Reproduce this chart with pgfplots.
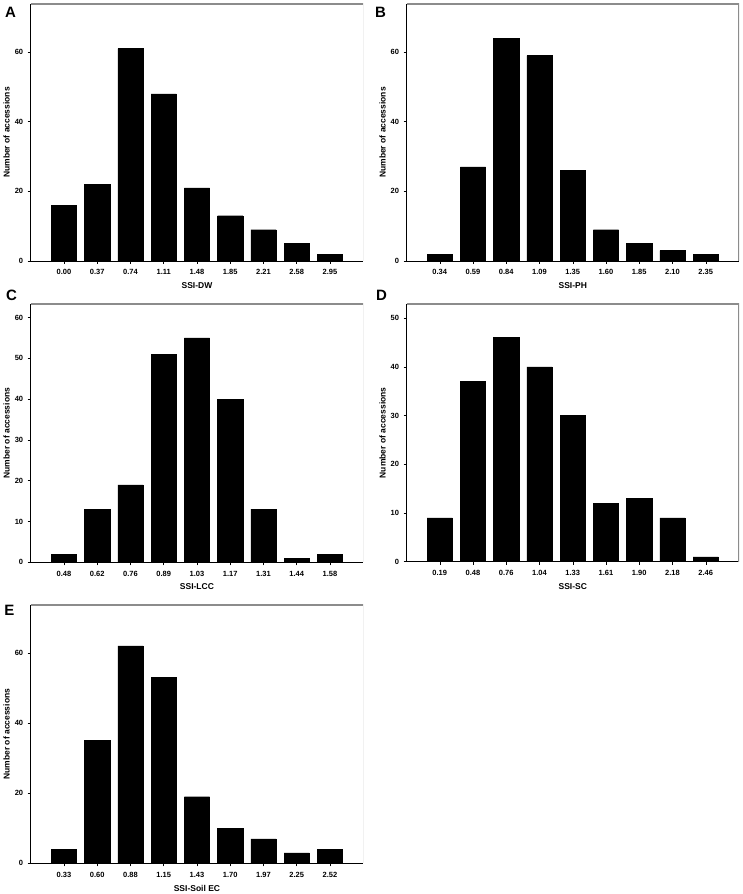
\documentclass[border=0pt]{standalone}
\usepackage{fontspec}
\setmainfont{Liberation Sans}
\usepackage{pgfplots}
\pgfplotsset{compat=1.18}
\definecolor{framegray}{HTML}{8C8C8C}
\pgfplotsset{
  hist/.style={
    scale only axis,
    width=332.5pt,
    xmin=-1, xmax=9, ymin=0,
    ybar, bar width=0.76,
    axis x line*=bottom, axis y line*=left,
    axis line style={black, line width=0.6pt},
    tick align=outside, major tick length=3pt,
    tick style={black, line width=0.5pt},
    xtick={0,...,8},
    /pgf/number format/assume math mode=true,
    tick label style={font=\bfseries\fontsize{7.5}{8}\selectfont},
    xticklabel style={yshift=-2.1pt},
    yticklabel style={xshift=-1pt},
    ylabel={Number of accessions},
    every axis y label/.style={at={([xshift=-24pt]axis description cs:0,0.5)}, rotate=90, anchor=center, font=\bfseries\fontsize{8.5}{10}\selectfont},
    every axis x label/.style={at={([yshift=-24.7pt]axis description cs:0.5,0)}, anchor=center, font=\bfseries\fontsize{8.5}{10}\selectfont},
  },
  bars/.style={fill=black, draw=black, line width=0.3pt},
}
\newcommand{\grayframe}{\draw[framegray, line width=1.4pt] (rel axis cs:0,1) -- (rel axis cs:1,1) -- (rel axis cs:1,0);}
\begin{document}
\begin{tikzpicture}
\path[use as bounding box] (0pt,0pt) rectangle (743pt,894pt);

% A
\begin{axis}[hist, at={(30.7pt,633pt)}, anchor=south west, height=257pt, ymax=73.8,
  ytick={0,20,40,60},
  xticklabels={0.00,0.37,0.74,1.11,1.48,1.85,2.21,2.58,2.95},
  xlabel={SSI-DW}]
\addplot[bars] coordinates {(0,16) (1,22) (2,61) (3,48) (4,21) (5,13) (6,9) (7,5) (8,2)};
\grayframe
\end{axis}

% B
\begin{axis}[hist, at={(406.5pt,633pt)}, anchor=south west, height=257pt, ymax=73.8,
  ytick={0,20,40,60},
  xticklabels={0.34,0.59,0.84,1.09,1.35,1.60,1.85,2.10,2.35},
  xlabel={SSI-PH}]
\addplot[bars] coordinates {(0,2) (1,27) (2,64) (3,59) (4,26) (5,9) (6,5) (7,3) (8,2)};
\grayframe
\end{axis}

% C
\begin{axis}[hist, at={(30.7pt,331.7pt)}, anchor=south west, height=258.3pt, ymax=63.3,
  ytick={0,10,20,30,40,50,60},
  xticklabels={0.48,0.62,0.76,0.89,1.03,1.17,1.31,1.44,1.58},
  xlabel={SSI-LCC}]
\addplot[bars] coordinates {(0,2) (1,13) (2,19) (3,51) (4,55) (5,40) (6,13) (7,1) (8,2)};
\grayframe
\end{axis}

% D
\begin{axis}[hist, at={(406.5pt,332.3pt)}, anchor=south west, height=257.7pt, ymax=52.9,
  ytick={0,10,20,30,40,50},
  xticklabels={0.19,0.48,0.76,1.04,1.33,1.61,1.90,2.18,2.46},
  xlabel={SSI-SC}]
\addplot[bars] coordinates {(0,9) (1,37) (2,46) (3,40) (4,30) (5,12) (6,13) (7,9) (8,1)};
\grayframe
\end{axis}

% E
\begin{axis}[hist, at={(30.7pt,30.7pt)}, anchor=south west, height=258.3pt, ymax=73.7,
  ytick={0,20,40,60},
  xticklabels={0.33,0.60,0.88,1.15,1.43,1.70,1.97,2.25,2.52},
  xlabel={SSI-Soil EC}]
\addplot[bars] coordinates {(0,4) (1,35) (2,62) (3,53) (4,19) (5,10) (6,7) (7,3) (8,4)};
\grayframe
\end{axis}

% panel letters
\begin{scope}[every node/.style={font=\bfseries\fontsize{15}{16}\selectfont, inner sep=0pt}]
\node at (10.5pt,882pt) {A};
\node at (380.5pt,882pt) {B};
\node at (11.5pt,599pt) {C};
\node at (381.5pt,599pt) {D};
\node at (9.5pt,284pt) {E};
\end{scope}
\end{tikzpicture}
\end{document}
